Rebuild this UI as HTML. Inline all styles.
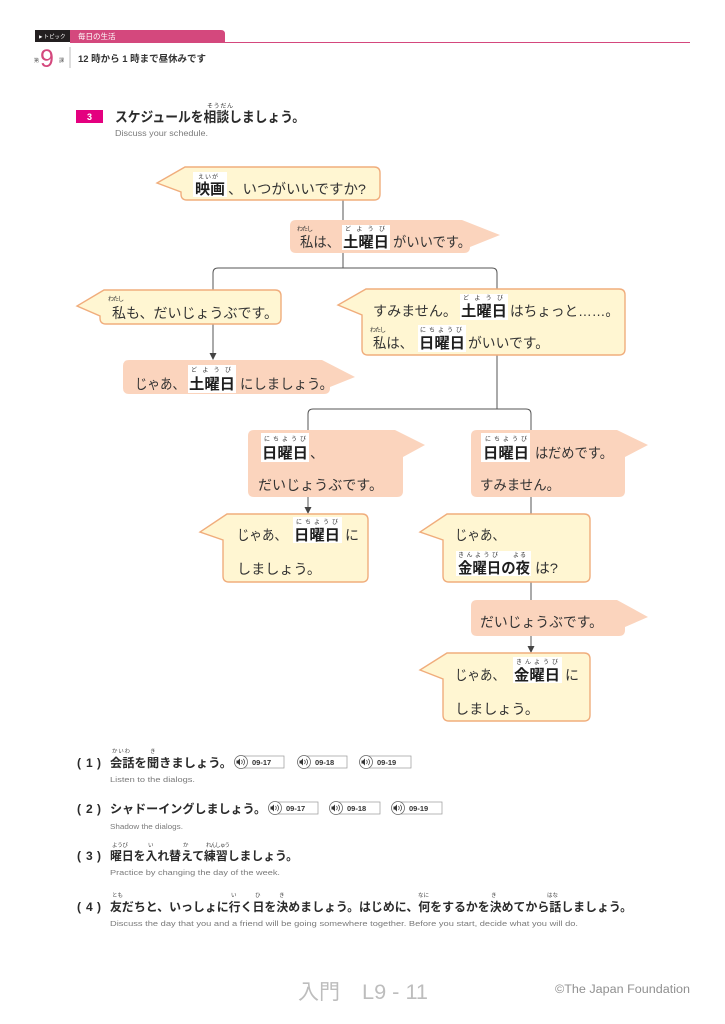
<!DOCTYPE html>
<html lang="ja">
<head>
<meta charset="utf-8">
<style>
html,body{margin:0;padding:0;background:#fff;}
svg{display:block;}
text{font-family:"Liberation Sans","Noto Sans CJK JP",sans-serif;}
.d{font-size:14px;fill:#333;}
.k{font-size:15px;font-weight:bold;fill:#1e1e1e;}
.f{font-size:6px;fill:#333;}
.q{font-size:12px;fill:#2a2a2a;font-weight:bold;}
.qn{font-size:12px;fill:#2a2a2a;font-weight:bold;}
.qf{font-size:5.5px;fill:#444;}
.e{font-size:7.5px;fill:#7a7a7a;}
.au{font-size:7.5px;fill:#333;font-weight:bold;}
.yb{fill:#fff6d2;stroke:#f0ad7c;stroke-width:1.4;}
.sb{fill:#fbd4bd;}
.ln{stroke:#555;stroke-width:1;fill:none;}
</style>
</head>
<body>
<svg width="725" height="1024" viewBox="0 0 725 1024" xmlns="http://www.w3.org/2000/svg">
<!-- Header -->
<rect x="35" y="30" width="35" height="12" fill="#231f20"/>
<text x="38" y="38.5" style="font-size:5.5px;fill:#fff;">►トピック</text>
<path d="M70,30 H221 Q225,30 225,34 V42 H70 Z" fill="#d4487d"/>
<text x="78" y="39" style="font-size:7.5px;fill:#fff;">毎日の生活</text>
<line x1="70" y1="42.5" x2="690" y2="42.5" stroke="#d4487d" stroke-width="1"/>
<text x="34" y="62" style="font-size:5px;fill:#555;">第</text>
<text x="40" y="67" style="font-size:25px;fill:#d4487d;">9</text>
<text x="59" y="62" style="font-size:5px;fill:#555;">課</text>
<line x1="70" y1="47" x2="70" y2="68" stroke="#bbb" stroke-width="1"/>
<text x="78" y="62" textLength="128" lengthAdjust="spacingAndGlyphs" style="font-size:9.5px;font-weight:bold;fill:#333;">12 時から 1 時まで昼休みです</text>

<!-- Section title -->
<rect x="76" y="110" width="27" height="13" fill="#e4007f"/>
<text x="89.5" y="120" text-anchor="middle" style="font-size:9px;font-weight:bold;fill:#fff;">3</text>
<text x="207" y="108" textLength="26" class="f">そうだん</text>
<text x="115" y="122" textLength="190" lengthAdjust="spacingAndGlyphs" style="font-size:14px;font-weight:bold;fill:#2a2a2a;">スケジュールを相談しましょう。</text>
<text x="115" y="136" textLength="93" lengthAdjust="spacingAndGlyphs" class="e" style="font-size:8px;">Discuss your schedule.</text>

<!-- Connectors -->
<line class="ln" x1="343" y1="200" x2="343" y2="220"/>
<path class="ln" d="M343,253 V268"/>
<path class="ln" d="M213,290 V273 Q213,268 218,268 H492 Q497,268 497,273 V289"/>
<path class="ln" d="M213,324 V354"/>
<polygon points="209.5,353 216.5,353 213,360" fill="#444"/>
<path class="ln" d="M497,355 V409"/>
<path class="ln" d="M308,430 V414 Q308,409 313,409 H526 Q531,409 531,414 V430"/>
<path class="ln" d="M308,497 V508"/>
<polygon points="304.5,507 311.5,507 308,514" fill="#444"/>
<path class="ln" d="M531,497 V600"/>
<path class="ln" d="M531,636 V647"/>
<polygon points="527.5,646 534.5,646 531,653" fill="#444"/>

<!-- Bubbles: yellow (pointer left) -->
<path class="yb" d="M187,167 H374 Q380,167 380,173 V194 Q380,200 374,200 H187 Q181,200 181,194 V192 L157,183 L185,167 Z"/>
<path class="yb" d="M106,290 H275 Q281,290 281,296 V318 Q281,324 275,324 H106 Q100,324 100,318 V316 L77,306 L104,290 Z"/>
<path class="yb" d="M368,289 H619 Q625,289 625,295 V349 Q625,355 619,355 H368 Q362,355 362,349 V315 L338,305 L366,289 Z"/>
<path class="yb" d="M229,514 H362 Q368,514 368,520 V576 Q368,582 362,582 H229 Q223,582 223,576 V540 L200,532 L227,514 Z"/>
<path class="yb" d="M449,514 H584 Q590,514 590,520 V576 Q590,582 584,582 H449 Q443,582 443,576 V540 L420,532 L447,514 Z"/>
<path class="yb" d="M449,653 H584 Q590,653 590,659 V715 Q590,721 584,721 H449 Q443,721 443,715 V679 L420,670 L447,653 Z"/>

<!-- Bubbles: salmon (pointer right) -->
<path class="sb" d="M296,220 H462 L500,235 L470,247 V247 Q470,253 464,253 H296 Q290,253 290,247 V226 Q290,220 296,220 Z"/>
<path class="sb" d="M129,360 H322 L355,377 L330,387 V388 Q330,394 324,394 H129 Q123,394 123,388 V366 Q123,360 129,360 Z"/>
<path class="sb" d="M254,430 H395 L425,445 L403,457 V491 Q403,497 397,497 H254 Q248,497 248,491 V436 Q248,430 254,430 Z"/>
<path class="sb" d="M477,430 H617 L648,445 L625,457 V491 Q625,497 619,497 H477 Q471,497 471,491 V436 Q471,430 477,430 Z"/>
<path class="sb" d="M477,600 H617 L648,617 L625,627 V630 Q625,636 619,636 H477 Q471,636 471,630 V606 Q471,600 477,600 Z"/>

<!-- Bubble 1 text -->
<rect x="193" y="172" width="34" height="25" fill="#fff"/>
<text x="198" y="179" textLength="20" class="f">えいが</text>
<text x="195" y="194" textLength="30" lengthAdjust="spacingAndGlyphs" class="k">映画</text>
<text x="228" y="194" textLength="138" lengthAdjust="spacingAndGlyphs" class="d">、いつがいいですか?</text>

<!-- Bubble 2 -->
<text x="297" y="231" textLength="16" class="f">わたし</text>
<text x="300" y="247" textLength="40" lengthAdjust="spacingAndGlyphs" class="d">私は、</text>
<rect x="342" y="225" width="48" height="25" fill="#fff"/>
<text x="345" y="231" textLength="40" class="f">どようび</text>
<text x="343" y="247" textLength="46" lengthAdjust="spacingAndGlyphs" class="k">土曜日</text>
<text x="393" y="247" textLength="78" lengthAdjust="spacingAndGlyphs" class="d">がいいです。</text>

<!-- Bubble 3 -->
<text x="108" y="301" textLength="16" class="f">わたし</text>
<text x="112" y="318" textLength="166" lengthAdjust="spacingAndGlyphs" class="d">私も、だいじょうぶです。</text>

<!-- Bubble 5 -->
<text x="135" y="389" textLength="50" lengthAdjust="spacingAndGlyphs" class="d">じゃあ、</text>
<rect x="188" y="365" width="48" height="28" fill="#fff"/>
<text x="191" y="372" textLength="40" class="f">どようび</text>
<text x="189" y="389" textLength="46" lengthAdjust="spacingAndGlyphs" class="k">土曜日</text>
<text x="240" y="389" textLength="93" lengthAdjust="spacingAndGlyphs" class="d">にしましょう。</text>

<!-- Bubble 4 -->
<text x="373" y="316" textLength="84" lengthAdjust="spacingAndGlyphs" class="d">すみません。</text>
<rect x="460" y="294" width="48" height="26" fill="#fff"/>
<text x="463" y="300" textLength="40" class="f">どようび</text>
<text x="461" y="316" textLength="46" lengthAdjust="spacingAndGlyphs" class="k">土曜日</text>
<text x="510" y="316" textLength="109" lengthAdjust="spacingAndGlyphs" class="d">はちょっと……。</text>
<text x="370" y="332" textLength="16" class="f">わたし</text>
<text x="373" y="348" textLength="40" lengthAdjust="spacingAndGlyphs" class="d">私は、</text>
<rect x="418" y="325" width="48" height="27" fill="#fff"/>
<text x="420" y="332" textLength="42" class="f">にちようび</text>
<text x="419" y="348" textLength="46" lengthAdjust="spacingAndGlyphs" class="k">日曜日</text>
<text x="468" y="348" textLength="81" lengthAdjust="spacingAndGlyphs" class="d">がいいです。</text>

<!-- Bubble 6 -->
<rect x="261" y="433" width="48" height="29" fill="#fff"/>
<text x="264" y="441" textLength="42" class="f">にちようび</text>
<text x="262" y="458" textLength="46" lengthAdjust="spacingAndGlyphs" class="k">日曜日</text>
<text x="310" y="458" class="d">、</text>
<text x="258" y="490" textLength="125" lengthAdjust="spacingAndGlyphs" class="d">だいじょうぶです。</text>

<!-- Bubble 8 -->
<text x="237" y="540" textLength="50" lengthAdjust="spacingAndGlyphs" class="d">じゃあ、</text>
<rect x="293" y="517" width="49" height="26" fill="#fff"/>
<text x="296" y="524" textLength="42" class="f">にちようび</text>
<text x="294" y="540" textLength="46" lengthAdjust="spacingAndGlyphs" class="k">日曜日</text>
<text x="345" y="540" class="d">に</text>
<text x="237" y="574" textLength="84" lengthAdjust="spacingAndGlyphs" class="d">しましょう。</text>

<!-- Bubble 7 -->
<rect x="481" y="433" width="49" height="29" fill="#fff"/>
<text x="485" y="441" textLength="42" class="f">にちようび</text>
<text x="483" y="458" textLength="46" lengthAdjust="spacingAndGlyphs" class="k">日曜日</text>
<text x="535" y="458" textLength="78" lengthAdjust="spacingAndGlyphs" class="d">はだめです。</text>
<text x="480" y="490" textLength="80" lengthAdjust="spacingAndGlyphs" class="d">すみません。</text>

<!-- Bubble 9 -->
<text x="455" y="540" textLength="50" lengthAdjust="spacingAndGlyphs" class="d">じゃあ、</text>
<rect x="456" y="551" width="75" height="25" fill="#fff"/>
<text x="458" y="557" textLength="40" class="f">きんようび</text>
<text x="513" y="557" textLength="13" class="f">よる</text>
<text x="458" y="573" textLength="72" lengthAdjust="spacingAndGlyphs" class="k">金曜日の夜</text>
<text x="535" y="573" textLength="23" lengthAdjust="spacingAndGlyphs" class="d">は?</text>

<!-- Bubble 10 -->
<text x="480" y="627" textLength="123" lengthAdjust="spacingAndGlyphs" class="d">だいじょうぶです。</text>

<!-- Bubble 11 -->
<text x="455" y="680" textLength="50" lengthAdjust="spacingAndGlyphs" class="d">じゃあ、</text>
<rect x="513" y="657" width="49" height="26" fill="#fff"/>
<text x="516" y="664" textLength="42" class="f">きんようび</text>
<text x="514" y="680" textLength="46" lengthAdjust="spacingAndGlyphs" class="k">金曜日</text>
<text x="565" y="680" class="d">に</text>
<text x="455" y="714" textLength="84" lengthAdjust="spacingAndGlyphs" class="d">しましょう。</text>

<!-- Exercises -->
<text x="77" y="767" class="qn">(</text><text x="86" y="767" class="qn">1</text><text x="97" y="767" class="qn">)</text>
<text x="112" y="753" textLength="18" class="qf">かいわ</text>
<text x="150" y="753" class="qf">き</text>
<text x="110" y="767" textLength="122" lengthAdjust="spacingAndGlyphs" class="q">会話を聞きましょう。</text>
<text x="110" y="782" textLength="85" lengthAdjust="spacingAndGlyphs" class="e">Listen to the dialogs.</text>

<g>
<rect x="241" y="756" width="43" height="12" fill="none" stroke="#999" stroke-width="0.7"/>
<circle cx="241" cy="762" r="6.5" fill="#fff" stroke="#666" stroke-width="0.8"/>
<path d="M236.5,760.5 h1.5 l2,-2 v7 l-2,-2 h-1.5 z" fill="#333"/>
<path d="M241.5,760 q1.5,2 0,4 M243.3,758.8 q2.5,3.2 0,6.4" stroke="#333" stroke-width="0.7" fill="none"/>
<text x="252" y="765" class="au">09-17</text>
</g>
<g>
<rect x="304" y="756" width="43" height="12" fill="none" stroke="#999" stroke-width="0.7"/>
<circle cx="304" cy="762" r="6.5" fill="#fff" stroke="#666" stroke-width="0.8"/>
<path d="M299.5,760.5 h1.5 l2,-2 v7 l-2,-2 h-1.5 z" fill="#333"/>
<path d="M304.5,760 q1.5,2 0,4 M306.3,758.8 q2.5,3.2 0,6.4" stroke="#333" stroke-width="0.7" fill="none"/>
<text x="315" y="765" class="au">09-18</text>
</g>
<g>
<rect x="366" y="756" width="45" height="12" fill="none" stroke="#999" stroke-width="0.7"/>
<circle cx="366" cy="762" r="6.5" fill="#fff" stroke="#666" stroke-width="0.8"/>
<path d="M361.5,760.5 h1.5 l2,-2 v7 l-2,-2 h-1.5 z" fill="#333"/>
<path d="M366.5,760 q1.5,2 0,4 M368.3,758.8 q2.5,3.2 0,6.4" stroke="#333" stroke-width="0.7" fill="none"/>
<text x="377" y="765" class="au">09-19</text>
</g>

<text x="77" y="813" class="qn">(</text><text x="86" y="813" class="qn">2</text><text x="97" y="813" class="qn">)</text>
<text x="110" y="813" textLength="156" lengthAdjust="spacingAndGlyphs" class="q">シャドーイングしましょう。</text>
<text x="110" y="829" textLength="73" lengthAdjust="spacingAndGlyphs" class="e">Shadow the dialogs.</text>
<g>
<rect x="275" y="802" width="43" height="12" fill="none" stroke="#999" stroke-width="0.7"/>
<circle cx="275" cy="808" r="6.5" fill="#fff" stroke="#666" stroke-width="0.8"/>
<path d="M270.5,806.5 h1.5 l2,-2 v7 l-2,-2 h-1.5 z" fill="#333"/>
<path d="M275.5,806 q1.5,2 0,4 M277.3,804.8 q2.5,3.2 0,6.4" stroke="#333" stroke-width="0.7" fill="none"/>
<text x="286" y="811" class="au">09-17</text>
</g>
<g>
<rect x="336" y="802" width="44" height="12" fill="none" stroke="#999" stroke-width="0.7"/>
<circle cx="336" cy="808" r="6.5" fill="#fff" stroke="#666" stroke-width="0.8"/>
<path d="M331.5,806.5 h1.5 l2,-2 v7 l-2,-2 h-1.5 z" fill="#333"/>
<path d="M336.5,806 q1.5,2 0,4 M338.3,804.8 q2.5,3.2 0,6.4" stroke="#333" stroke-width="0.7" fill="none"/>
<text x="347" y="811" class="au">09-18</text>
</g>
<g>
<rect x="398" y="802" width="44" height="12" fill="none" stroke="#999" stroke-width="0.7"/>
<circle cx="398" cy="808" r="6.5" fill="#fff" stroke="#666" stroke-width="0.8"/>
<path d="M393.5,806.5 h1.5 l2,-2 v7 l-2,-2 h-1.5 z" fill="#333"/>
<path d="M398.5,806 q1.5,2 0,4 M400.3,804.8 q2.5,3.2 0,6.4" stroke="#333" stroke-width="0.7" fill="none"/>
<text x="409" y="811" class="au">09-19</text>
</g>

<text x="77" y="860" class="qn">(</text><text x="86" y="860" class="qn">3</text><text x="97" y="860" class="qn">)</text>
<text x="112" y="847" textLength="16" class="qf">ようび</text>
<text x="148" y="847" class="qf">い</text>
<text x="183" y="847" class="qf">か</text>
<text x="206" y="847" textLength="24" class="qf">れんしゅう</text>
<text x="110" y="860" textLength="188" lengthAdjust="spacingAndGlyphs" class="q">曜日を入れ替えて練習しましょう。</text>
<text x="110" y="875" textLength="170" lengthAdjust="spacingAndGlyphs" class="e">Practice by changing the day of the week.</text>

<text x="77" y="911" class="qn">(</text><text x="86" y="911" class="qn">4</text><text x="97" y="911" class="qn">)</text>
<text x="112" y="897" class="qf">とも</text>
<text x="231" y="897" class="qf">い</text>
<text x="255" y="897" class="qf">ひ</text>
<text x="279" y="897" class="qf">き</text>
<text x="418" y="897" class="qf">なに</text>
<text x="491" y="897" class="qf">き</text>
<text x="547" y="897" class="qf">はな</text>
<text x="110" y="911" textLength="522" lengthAdjust="spacingAndGlyphs" class="q">友だちと、いっしょに行く日を決めましょう。はじめに、何をするかを決めてから話しましょう。</text>
<text x="110" y="926" textLength="468" lengthAdjust="spacingAndGlyphs" class="e">Discuss the day that you and a friend will be going somewhere together. Before you start, decide what you will do.</text>

<!-- Footer -->
<text x="298" y="999" textLength="42" lengthAdjust="spacingAndGlyphs" style="font-size:21px;fill:#bdbdbd;">入門</text>
<text x="362" y="999" textLength="66" lengthAdjust="spacingAndGlyphs" style="font-size:21px;fill:#bdbdbd;">L9 - 11</text>
<text x="555" y="993" textLength="135" lengthAdjust="spacingAndGlyphs" style="font-size:11.5px;fill:#909090;">©The Japan Foundation</text>
</svg>
</body>
</html>
